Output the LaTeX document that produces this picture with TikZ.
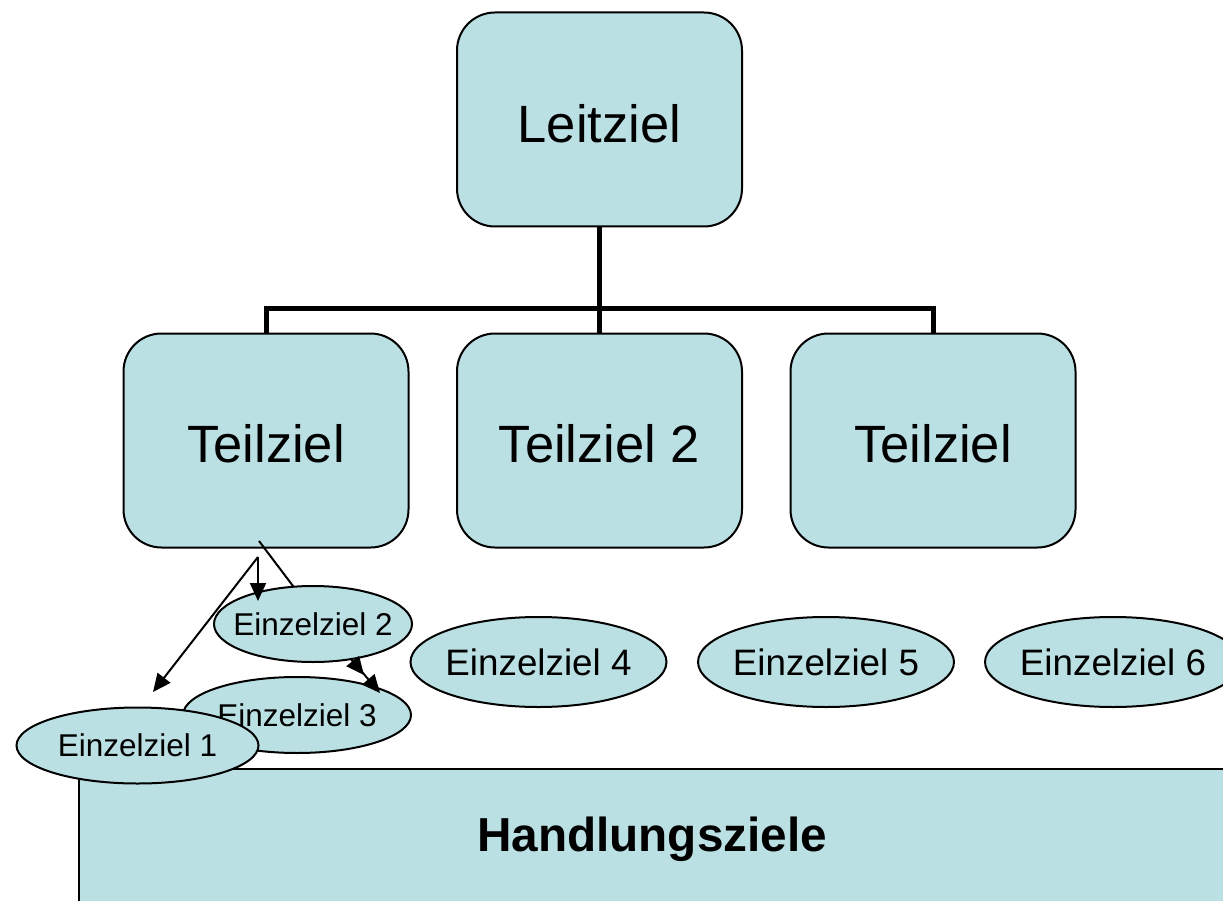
\documentclass[tikz,border=0pt]{standalone}
\usepackage{fontspec}
\setmainfont{Liberation Sans}
\usetikzlibrary{shapes.geometric,arrows.meta}
\definecolor{boxfill}{RGB}{187,224,227}
\tikzset{
  goalbox/.style={draw=black,line width=2pt,fill=boxfill,rounded corners=38pt,minimum width=285pt,minimum height=214pt,inner sep=0pt},
  goaltext/.style={font=\fontsize{52.5}{60}\selectfont},
  subgoal/.style={draw=black,line width=2pt,fill=boxfill,ellipse,inner sep=0pt},
  big/.style={font=\fontsize{36.8}{42}\selectfont},
  small/.style={font=\fontsize{31.5}{36}\selectfont},
  tree/.style={line width=5pt},
  arr/.style={line width=2pt,-{Triangle[length=18pt,width=16pt]}},
  plain/.style={line width=2pt}
}
\begin{document}
\begin{tikzpicture}[x=1pt,y=-1pt]
\useasboundingbox (0,0) rectangle (1223,901);
\clip (0,0) rectangle (1223,901);
% top level
\node[goalbox] (leit) at (599.5,119.5) {};
\node[goaltext] (leitt) at (599.5,123.5) {Leitziel};
\node[goalbox] (t1) at (266,440.5) {};
\node[goaltext] (t1t) at (266,443.5) {Teilziel};
\node[goalbox] (t2) at (599.5,440.5) {};
\node[goaltext] (t2t) at (599.5,443.5) {Teilziel 2};
\node[goalbox] (t3) at (933,440.5) {};
\node[goaltext] (t3t) at (933,443.5) {Teilziel};
\coordinate (j) at (599.5,308);
\draw[tree] (leit.south) -- (j);
\draw[tree] (t1.north) |- (j) -| (t3.north);
\draw[tree] (j) -- (t2.north);
% bottom box
\node[draw=black,line width=2pt,fill=boxfill,minimum width=1200pt,minimum height=200pt,anchor=north west,inner sep=0pt] (hz) at (78,768) {};
\node[font=\bfseries\fontsize{47.7}{54}\selectfont] (hzl) at (652,839) {Handlungsziele};
% connectors behind ellipses
\coordinate (s1) at (259,541);
\coordinate (s2) at (258,557);
\coordinate (e1) at (296,590);
\draw[plain] (s1) -- (e1);
% ellipses
\node[subgoal,minimum width=256pt,minimum height=90pt] (z4) at (538.5,662) {};
\node[big] (z4t) at (z4) {Einzelziel 4};
\node[subgoal,minimum width=256pt,minimum height=90pt] (z5) at (826,662) {};
\node[big] (z5t) at (z5) {Einzelziel 5};
\node[subgoal,minimum width=256pt,minimum height=90pt] (z6) at (1113,662) {};
\node[big] (z6t) at (z6) {Einzelziel 6};
\node[subgoal,minimum width=198pt,minimum height=76pt] (z2) at (313,624) {};
\node[small] (z2t) at (z2) {Einzelziel 2};
\node[subgoal,minimum width=228pt,minimum height=76pt] (z3) at (297,715) {};
\node[small] (z3t) at (z3) {Einzelziel 3};
\node[subgoal,minimum width=242pt,minimum height=76pt] (z1) at (137.5,745.5) {};
\node[small] (z1t) at (z1) {Einzelziel 1};
% arrows
\coordinate (a1) at (153,692);
\coordinate (a2) at (258,601);
\coordinate (b0) at (351,659);
\coordinate (b1) at (364,675);
\coordinate (b2) at (380,693);
\draw[arr] (s2) -- (a1);
\draw[arr] (s2) -- (a2);
\draw[arr] (b0) -- (b1);
\draw[arr] (b0) -- (b2);
\end{tikzpicture}
\end{document}
